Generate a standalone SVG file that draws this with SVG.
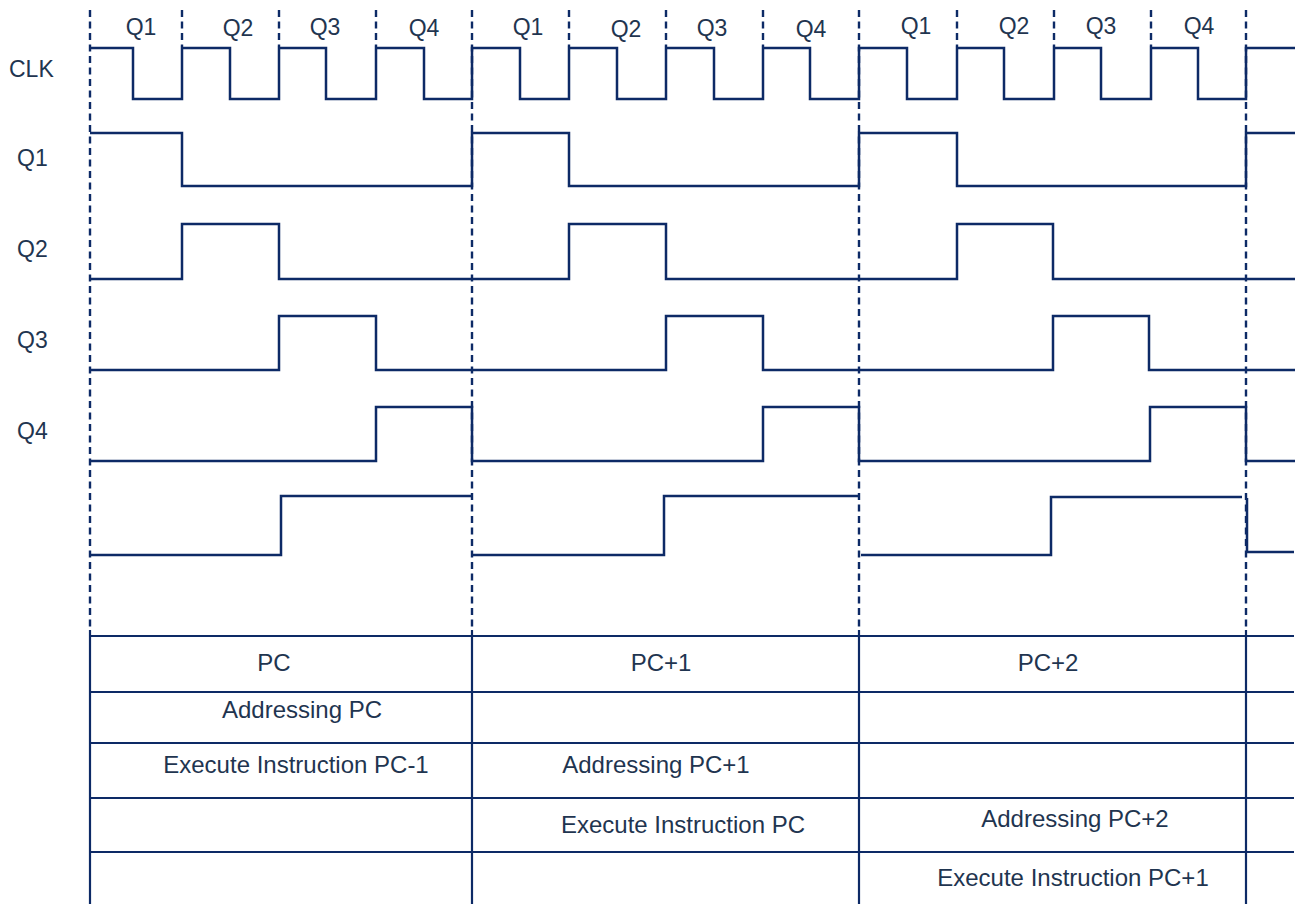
<svg xmlns="http://www.w3.org/2000/svg" width="1299" height="904" viewBox="0 0 1299 904">
<style>
.bg{fill:#ffffff}
.dash{stroke:#0d2a66;stroke-width:2.4;stroke-dasharray:7 4.5;fill:none}
.wave{stroke:#0d2a66;stroke-width:2.5;fill:none;stroke-linejoin:miter}
.grid{stroke:#0d2a66;stroke-width:2.2;fill:none}
.lbl{font-family:"Liberation Sans",Arial,sans-serif;font-size:23px;fill:#1f3550}
.tbl{font-family:"Liberation Sans",Arial,sans-serif;font-size:24px;fill:#1f3550;text-anchor:middle}
.top{font-family:"Liberation Sans",Arial,sans-serif;font-size:23px;fill:#1f3550;text-anchor:middle}
</style>
<rect class="bg" x="0" y="0" width="1299" height="904"/>

<g id="guides">
  <path class="dash" d="M90,10 V630 M472,10 V630 M859,10 V630 M1246,10 V630"/>
  <path class="dash" d="M182,10 V47 M279,10 V47 M376,10 V47 M569,10 V47 M666,10 V47 M763,10 V47 M957,10 V47 M1054,10 V47 M1151,10 V47"/>
</g>

<g id="quarter-labels">
  <text class="top" x="141" y="35">Q1</text>
  <text class="top" x="238" y="36">Q2</text>
  <text class="top" x="325" y="35">Q3</text>
  <text class="top" x="424" y="36">Q4</text>
  <text class="top" x="528" y="35">Q1</text>
  <text class="top" x="626" y="37">Q2</text>
  <text class="top" x="712" y="36">Q3</text>
  <text class="top" x="811" y="37">Q4</text>
  <text class="top" x="916" y="34">Q1</text>
  <text class="top" x="1014" y="34">Q2</text>
  <text class="top" x="1101" y="34">Q3</text>
  <text class="top" x="1199" y="34">Q4</text>
</g>

<g id="row-labels">
  <text class="lbl" x="9" y="77">CLK</text>
  <text class="lbl" x="17" y="166">Q1</text>
  <text class="lbl" x="17" y="257">Q2</text>
  <text class="lbl" x="17" y="348">Q3</text>
  <text class="lbl" x="17" y="439">Q4</text>
</g>

<g id="waveforms">
  <path id="clk" class="wave" d="M90,48 H133 V99 H182 V48 H230 V99 H279 V48 H326 V99 H376 V48 H424 V99 H472 V48 H520 V99 H569 V48 H617 V99 H666 V48 H714 V99 H763 V48 H810 V99 H859 V48 H907 V99 H957 V48 H1004 V99 H1054 V48 H1101 V99 H1151 V48 H1198 V99 H1246 V48 H1295"/>
  <path id="q1" class="wave" d="M90,133 H182 V186 H472 V133 H569 V186 H859 V133 H957 V186 H1246 V133 H1295"/>
  <path id="q2" class="wave" d="M90,279 H182 V224 H279 V279 H569 V224 H666 V279 H957 V224 H1053 V279 H1295"/>
  <path id="q3" class="wave" d="M90,370 H279 V316 H376 V370 H666 V316 H763 V370 H1053 V316 H1149 V370 H1295"/>
  <path id="q4" class="wave" d="M90,461 H376 V407 H472 V461 H763 V407 H859 V461 H1150 V407 H1246 V461 H1295"/>
  <path id="q5" class="wave" d="M90,555 H281 V496 H472 M472,555 H664 V496 H859 M861,555 H1051 V497 H1242 M1247,498 V552 H1294"/>
</g>

<g id="table">
  <path class="grid" d="M90,636 H1294 M90,692 H1294 M90,743 H1294 M90,798 H1294 M90,852 H1294"/>
  <path class="grid" d="M90,630 V904 M472,630 V904 M859,630 V904 M1246,630 V904"/>
</g>

<g id="table-text">
  <text class="tbl" x="274" y="671">PC</text>
  <text class="tbl" x="661" y="671">PC+1</text>
  <text class="tbl" x="1048" y="671">PC+2</text>
  <text class="tbl" x="302" y="718">Addressing PC</text>
  <text class="tbl" x="296" y="773">Execute Instruction PC-1</text>
  <text class="tbl" x="656" y="773">Addressing PC+1</text>
  <text class="tbl" x="683" y="833">Execute Instruction PC</text>
  <text class="tbl" x="1075" y="827">Addressing PC+2</text>
  <text class="tbl" x="1073" y="886">Execute Instruction PC+1</text>
</g>
</svg>
